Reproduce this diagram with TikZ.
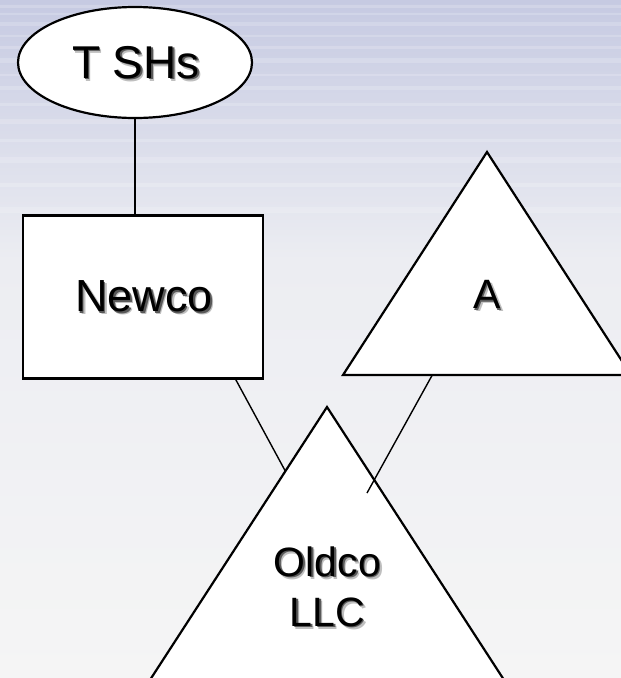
\documentclass[tikz,border=0pt]{standalone}
\usepackage{fontspec}
\setmainfont{Liberation Sans}
\usetikzlibrary{shapes.geometric,calc}

\definecolor{bgtop}{RGB}{198,202,226}
\definecolor{bgmid}{RGB}{236,237,242}
\definecolor{bgbot}{RGB}{245,245,245}

\tikzset{
  outline/.style={draw=black, line width=2.2pt, fill=white},
  link/.style={draw=black, line width=1.4pt},
  lbl/.style={inner sep=0pt, align=center, text=black},
}

% one line of text with a soft drop shadow behind it
\newcommand\shtxt[1]{%
  \rlap{\kern2.8pt\raisebox{-2.8pt}{\textcolor{black!25}{#1}}}%
  \rlap{\kern1.5pt\raisebox{-1.5pt}{\textcolor{black!65}{#1}}}%
  #1}

\begin{document}
\begin{tikzpicture}[x=1pt,y=-1pt]
\useasboundingbox (0,0) rectangle (621,678);
\clip (0,0) rectangle (621,678);

% background
\shade[top color=bgtop, bottom color=bgmid] (0,0) rectangle (621,260);
\shade[top color=bgmid, bottom color=bgbot] (0,260) rectangle (621,678);
\foreach \y/\w in {6/3, 14/2, 24/4, 36/2, 47/3, 60/5, 75/2, 88/4, 104/3, 121/5, 140/3, 160/6, 185/4, 210/6}
  \draw[white, opacity=0.18, line width=\w pt] (0,\y) -- (621,\y);

% shareholders and holding company
\node[outline, ellipse, minimum width=234pt, minimum height=111pt, inner sep=0pt] (tsh) at (135,62.5) {};
\node[outline, rectangle, minimum width=240pt, minimum height=163pt, inner sep=0pt] (newco) at (143,297) {};

% triangle A
\coordinate (a-top) at (487,152);
\coordinate (a-left) at (343,375);
\coordinate (a-right) at (631,375);
\draw[outline] (a-top) -- (a-left) -- (a-right) -- cycle;

% Oldco triangle
\coordinate (o-top) at (327,407);
\coordinate (o-left) at (124,720);
\coordinate (o-right) at (530,720);
\draw[outline] (o-top) -- (o-left) -- (o-right) -- cycle;

% connectors
\draw[link] (tsh.south) -- (tsh.south |- newco.north);
\coordinate (n-out) at ($(newco.south west)!0.883!(newco.south east)$);
\coordinate (o-in) at ($(o-top)!0.205!(o-left)$);
\draw[link] (n-out) -- (o-in);
\coordinate (a-out) at ($(a-left)!0.31!(a-right)$);
\coordinate (o-end) at (367,493);
\draw[link] (a-out) -- (o-end);

% labels
\node[lbl, font=\fontsize{46}{50}\selectfont] (tsh-text) at (136,64) {\shtxt{T SHs}};
\node[lbl, font=\fontsize{45}{50}\selectfont] (newco-text) at (144,298) {\shtxt{Newco}};
\node[lbl, font=\fontsize{41}{50}\selectfont] (a-text) at (487,296) {\shtxt{A}};
\node[lbl, font=\fontsize{41}{50}\selectfont] (oldco-text) at (327.5,588) {\shtxt{Oldco}\\\shtxt{LLC}};
\end{tikzpicture}
\end{document}
